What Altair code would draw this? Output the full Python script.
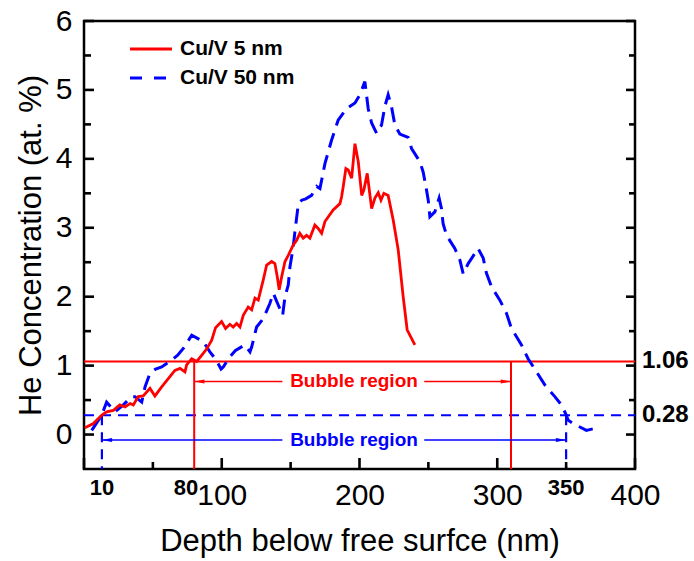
import altair as alt
import pandas as pd

# ---------------- data ----------------
red_depth = [0.7, 6.8, 12.8, 16.4, 21.3, 26.0, 29.8, 33.4, 35.8, 39.4, 43.0, 47.9, 51.5, 56.4,
             61.2, 66.0, 69.7, 73.3, 74.5, 78.2, 81.8, 85.4, 89.0, 92.7, 95.5, 99.9, 102.8,
             105.9, 108.3, 110.8, 113.2, 115.6, 119.2, 121.7, 124.1, 126.5, 130.1, 132.6,
             136.2, 138.6, 140.3, 141.7, 143.5, 145.9, 148.3, 151.9, 154.4, 156.7, 159.1,
             161.6, 164.0, 167.6, 170.0, 172.5, 174.9, 180.9, 185.8, 187.0, 188.2, 190.1,
             191.8, 194.3, 196.7, 199.1, 201.6, 203.2, 205.6, 208.8, 211.2, 213.6, 215.6,
             217.7, 220.8, 224.5, 228.1, 231.7, 234.6, 240.2]
red_conc = [0.10, 0.16, 0.28, 0.33, 0.35, 0.43, 0.40, 0.45, 0.43, 0.55, 0.56, 0.67, 0.56, 0.69,
            0.81, 0.93, 0.96, 0.91, 1.01, 1.10, 1.06, 1.15, 1.24, 1.37, 1.55, 1.64, 1.54,
            1.60, 1.56, 1.61, 1.56, 1.73, 1.85, 1.81, 1.98, 1.95, 2.24, 2.46,
            2.51, 2.48, 2.29, 2.10, 2.29, 2.51, 2.60, 2.75, 2.82, 2.92, 2.85,
            2.89, 2.85, 3.04, 2.99, 2.92, 3.09, 3.26, 3.35, 3.45, 3.60, 3.86,
            3.84, 3.72, 4.22, 3.96, 3.47, 3.55, 3.79, 3.28, 3.43, 3.51, 3.40,
            3.50, 3.47, 3.11, 2.68, 2.00, 1.52, 1.30]

blue_depth = [5.6, 12.8, 16.4, 22.5, 28.0, 34.6, 37.0, 41.9, 44.3, 47.9, 52.0, 56.4, 63.6,
              68.0, 72.1, 78.2, 86.6, 91.4, 96.0, 99.5, 101.1, 105.9, 110.0, 116.8, 120.5,
              121.7, 125.3, 130.1, 134.9, 137.4, 141.0, 144.2, 145.9, 148.3, 149.5, 151.9,
              153.1, 155.5, 158.0, 161.0, 165.2, 168.9, 171.3, 174.9, 179.7, 184.5, 190.6,
              196.7, 200.3, 203.9, 206.3, 208.8, 212.4, 216.0, 218.4, 220.8, 223.2, 225.7,
              229.3, 235.3, 237.8, 243.8, 246.2, 248.2, 249.9, 251.1, 254.7, 257.8, 259.5,
              260.7, 263.2, 269.2, 272.9, 275.3, 278.9, 286.1, 289.8, 292.2, 295.9, 301.9,
              306.7, 310.3, 314.0, 317.6, 322.4, 328.5, 334.5, 341.8, 346.6, 350.2, 351.4,
              355.1, 364.7, 370.8]
blue_conc = [0.06, 0.28, 0.47, 0.33, 0.42, 0.55, 0.55, 0.47, 0.69, 0.89, 0.95, 0.98, 1.08,
             1.15, 1.25, 1.44, 1.35, 1.20, 1.08, 0.95, 0.98, 1.13, 1.22, 1.30, 1.20,
             1.27, 1.56, 1.68, 1.90, 2.05, 1.88, 1.73, 2.00, 2.17, 2.43, 2.72,
             2.94, 3.33, 3.40, 3.42, 3.47, 3.60, 3.57, 3.93, 4.27, 4.56, 4.73,
             4.81, 4.93, 5.12, 4.73, 4.52, 4.37, 4.49, 4.76, 4.93, 4.76, 4.49,
             4.36, 4.31, 4.15, 3.96, 3.81, 3.60, 3.40, 3.16, 3.23, 3.43, 3.28,
             3.06, 2.89, 2.70, 2.53, 2.33, 2.48, 2.70, 2.56, 2.34, 2.14, 1.95,
             1.76, 1.54, 1.42, 1.30, 1.10, 0.91, 0.72, 0.55, 0.43, 0.28, 0.21,
             0.16, 0.06, 0.09]

series_names = ["Cu/V 5 nm", "Cu/V 50 nm"]
series_colors = ["#ff0000", "#0000ff"]

x_tick_labels = [100, 200, 300, 400]
x_major = [0, 100, 200, 300, 400]
x_minor = [50, 150, 250, 350]
y_major = [0, 1, 2, 3, 4, 5, 6]
y_minor = [0.5, 1.5, 2.5, 3.5, 4.5, 5.5]

thresholds = [1.06, 0.28]
threshold_labels = ["1.06", "0.28"]
red_bounds = [80, 310]
blue_bounds = [13, 350]
bound_labels = ["10", "80", "350"]
bound_label_pos = [13, 80, 350]
region_text = "Bubble region"
region_y = [0.77, -0.08]
region_text_x = 196
arrow_inner = [144, 247]

# ---------------- layout ----------------
W, H = 551, 448
FONT = "Liberation Sans"
RED, BLUE = series_colors

xs = alt.Scale(domain=[0, 400], nice=False, zero=False)
ys = alt.Scale(domain=[-0.5, 6], nice=False, zero=False)

red_df = pd.DataFrame({"depth": red_depth, "conc": red_conc})
blue_df = pd.DataFrame({"depth": blue_depth, "conc": blue_conc})

x_main = alt.X("depth:Q", scale=xs, axis=alt.Axis(
    values=x_tick_labels, format="d", title="Depth below free surfce (nm)",
    labelFontSize=30, titleFontSize=31, labelPadding=11, titlePadding=16,
    labelFlush=False, labelOverlap=False))
y_main = alt.Y("conc:Q", scale=ys, axis=alt.Axis(
    values=y_major, format="d", title="He Concentration (at. %)",
    labelFontSize=30, titleFontSize=31, labelPadding=12, titlePadding=8,
    labelFlush=False, labelOverlap=False))

red_line = alt.Chart(red_df).mark_line(color=RED, strokeWidth=2.8).encode(
    x=x_main, y=y_main, order="depth:Q")
blue_line = alt.Chart(blue_df).mark_line(color=BLUE, strokeWidth=3, strokeDash=[15, 8]).encode(
    x=alt.X("depth:Q", scale=xs), y=alt.Y("conc:Q", scale=ys), order="depth:Q")

# threshold horizontal lines
hred = alt.Chart(pd.DataFrame({"v": [thresholds[0]]})).mark_rule(color=RED, strokeWidth=2).encode(
    y=alt.Y("v:Q", scale=ys), x=alt.value(0), x2=alt.value(W))
hblue = alt.Chart(pd.DataFrame({"v": [thresholds[1]]})).mark_rule(
    color=BLUE, strokeWidth=2.2, strokeDash=[10, 7]).encode(
    y=alt.Y("v:Q", scale=ys), x=alt.value(0), x2=alt.value(W))

# vertical boundary lines
vred = alt.Chart(pd.DataFrame({"x": red_bounds, "top": [thresholds[0]] * 2, "bot": [-0.5] * 2})
                 ).mark_rule(color=RED, strokeWidth=2).encode(
    x=alt.X("x:Q", scale=xs), y=alt.Y("top:Q", scale=ys), y2="bot:Q")
vblue = alt.Chart(pd.DataFrame({"x": blue_bounds, "top": [thresholds[1]] * 2, "bot": [-0.5] * 2})
                  ).mark_rule(color=BLUE, strokeWidth=2.2, strokeDash=[10, 7]).encode(
    x=alt.X("x:Q", scale=xs), y=alt.Y("top:Q", scale=ys), y2="bot:Q")

# arrows
arrow_df = pd.DataFrame({
    "x1": [red_bounds[0], arrow_inner[1], blue_bounds[0], arrow_inner[1]],
    "x2": [arrow_inner[0], red_bounds[1], arrow_inner[0], blue_bounds[1]],
    "y": [region_y[0], region_y[0], region_y[1], region_y[1]],
    "c": [RED, RED, BLUE, BLUE],
})
arrows = alt.Chart(arrow_df).mark_rule(strokeWidth=1.4).encode(
    x=alt.X("x1:Q", scale=xs), x2="x2:Q", y=alt.Y("y:Q", scale=ys),
    color=alt.Color("c:N", scale=None))
head_left = alt.Chart(pd.DataFrame({"x": [red_bounds[0], blue_bounds[0]], "y": region_y,
                                    "c": [RED, BLUE]})).mark_point(
    shape="M-1,0L1,-0.38L1,0.38Z", size=110, filled=True, opacity=1, xOffset=5).encode(
    x=alt.X("x:Q", scale=xs), y=alt.Y("y:Q", scale=ys), color=alt.Color("c:N", scale=None))
head_right = alt.Chart(pd.DataFrame({"x": [red_bounds[1], blue_bounds[1]], "y": region_y,
                                     "c": [RED, BLUE]})).mark_point(
    shape="M1,0L-1,-0.38L-1,0.38Z", size=110, filled=True, opacity=1, xOffset=-5).encode(
    x=alt.X("x:Q", scale=xs), y=alt.Y("y:Q", scale=ys), color=alt.Color("c:N", scale=None))

region_labels = alt.Chart(pd.DataFrame({"x": [region_text_x] * 2, "y": region_y,
                                        "t": [region_text] * 2, "c": [RED, BLUE]})).mark_text(
    font=FONT, fontSize=19, fontWeight="bold", align="center", baseline="middle").encode(
    x=alt.X("x:Q", scale=xs), y=alt.Y("y:Q", scale=ys), text="t:N",
    color=alt.Color("c:N", scale=None))

# right-side threshold labels
thr_labels = alt.Chart(pd.DataFrame({"y": thresholds, "t": threshold_labels})).mark_text(
    font=FONT, fontSize=24, fontWeight="bold", align="left", baseline="middle", dx=7,
    color="black").encode(y=alt.Y("y:Q", scale=ys), x=alt.value(W), text="t:N")

# bold boundary labels under the axis
bl_df = pd.DataFrame({"x": bound_label_pos, "t": bound_labels})
bound_lbl_c = alt.Chart(bl_df[bl_df.t != "80"]).mark_text(
    font=FONT, fontSize=22, fontWeight="bold", align="center", baseline="middle",
    color="black").encode(x=alt.X("x:Q", scale=xs), y=alt.value(H + 19), text="t:N")
bound_lbl_80 = alt.Chart(bl_df[bl_df.t == "80"]).mark_text(
    font=FONT, fontSize=22, fontWeight="bold", align="right", baseline="middle", dx=4,
    color="black").encode(x=alt.X("x:Q", scale=xs), y=alt.value(H + 19), text="t:N")

# inward ticks
def yticks(vals, length, right):
    df = pd.DataFrame({"v": vals})
    if right:
        xe = dict(x=alt.value(W), x2=alt.value(W - length))
    else:
        xe = dict(x=alt.value(0), x2=alt.value(length))
    return alt.Chart(df).mark_rule(color="black", strokeWidth=2.6).encode(
        y=alt.Y("v:Q", scale=ys), **xe)

def xticks(vals, length):
    df = pd.DataFrame({"v": vals})
    return alt.Chart(df).mark_rule(color="black", strokeWidth=2.6).encode(
        x=alt.X("v:Q", scale=xs), y=alt.value(H), y2=alt.value(H - length))

ticks = [yticks(y_major, 10, False), yticks(y_minor, 7, False),
         yticks(y_major, 9, True), yticks(y_minor, 6, True),
         xticks(x_major, 11), xticks(x_minor, 7)]

# legend
leg_red = alt.Chart(pd.DataFrame({"a": [0]})).mark_rule(color=RED, strokeWidth=3).encode(
    x=alt.value(46), x2=alt.value(88), y=alt.value(28))
leg_blue = alt.Chart(pd.DataFrame({"a": [0]})).mark_rule(
    color=BLUE, strokeWidth=3, strokeDash=[12, 12]).encode(
    x=alt.value(46), x2=alt.value(88), y=alt.value(57))
leg_text = alt.Chart(pd.DataFrame({"t": series_names, "yy": [28, 57]})).mark_text(
    font=FONT, fontSize=21, fontWeight="bold", align="left", baseline="middle",
    color="black").encode(x=alt.value(96), y=alt.Y("yy:Q", scale=None), text="t:N")

chart = alt.layer(
    hred, hblue, vred, vblue, arrows, head_left, head_right, region_labels,
    *ticks, blue_line, red_line, thr_labels, bound_lbl_c, bound_lbl_80,
    leg_red, leg_blue, leg_text,
).properties(
    width=W, height=H,
    autosize=alt.AutoSizeParams(type="none"),
    padding={"left": 84, "top": 21, "right": 694 - 84 - W, "bottom": 561 - 21 - H},
).configure_view(
    stroke="black", strokeWidth=2.5
).configure_axis(
    domain=False, ticks=False, grid=False, labelFont=FONT, titleFont=FONT,
    labelColor="black", titleColor="black", titleFontWeight="normal"
)

chart.save("out.html", embed_options={"renderer": "svg", "actions": False})
